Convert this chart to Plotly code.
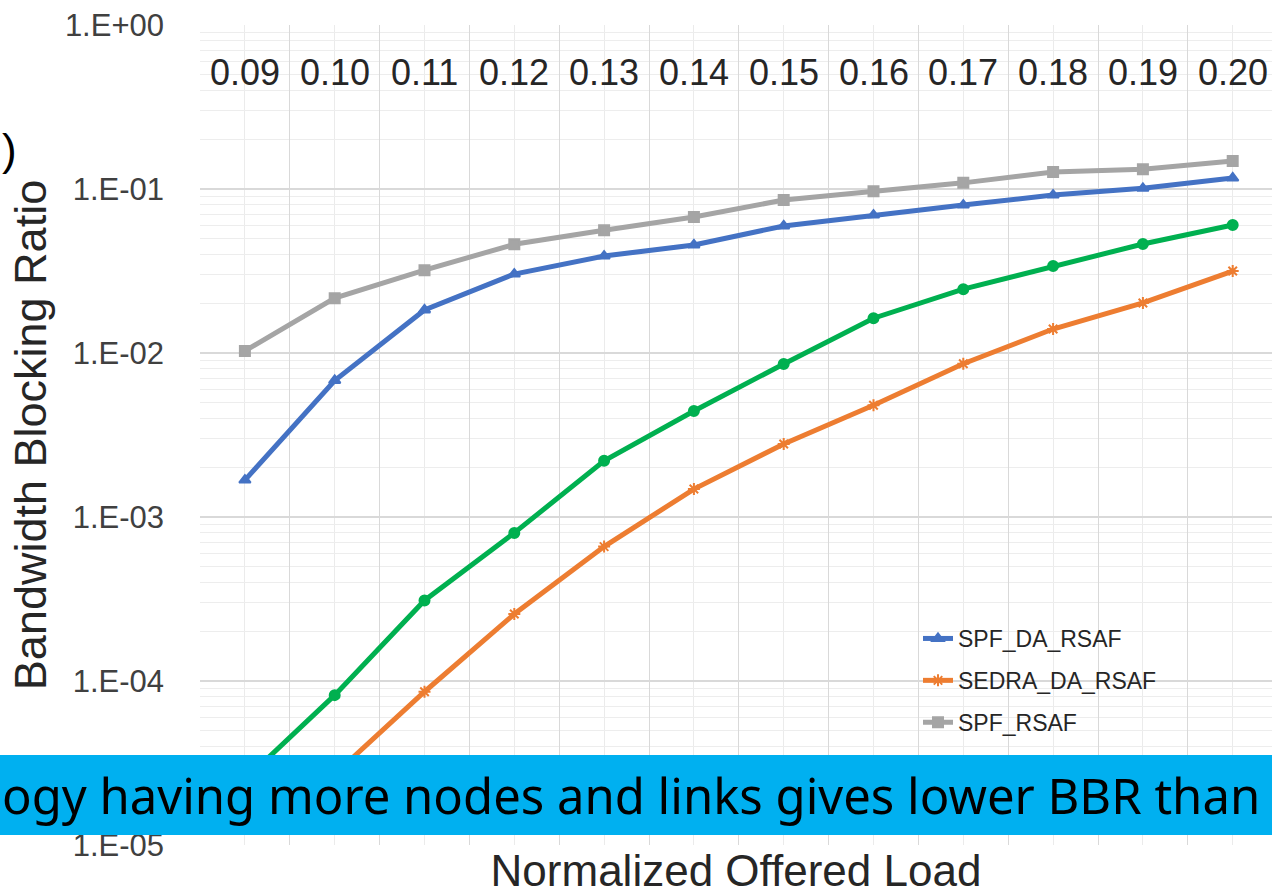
import plotly.graph_objects as go

categories = ["0.09", "0.10", "0.11", "0.12", "0.13", "0.14", "0.15", "0.16", "0.17", "0.18", "0.19", "0.20"]
spf_da_rsaf = [0.00168, 0.0068, 0.0183, 0.0303, 0.039, 0.0456, 0.0595, 0.0694, 0.0798, 0.0919, 0.101, 0.1167]
sedra_da_rsaf = [None, 2.7e-5, 8.6e-5, 2.56e-4, 6.6e-4, 1.48e-3, 2.79e-3, 4.8e-3, 8.6e-3, 0.014, 0.0202, 0.0316]
spf_rsaf = [0.0103, 0.0216, 0.032, 0.046, 0.056, 0.0675, 0.0857, 0.097, 0.109, 0.127, 0.132, 0.148]
sedra_rsaf = [2.5e-5, 8.2e-5, 3.1e-4, 8.0e-4, 2.2e-3, 4.43e-3, 8.57e-3, 0.0163, 0.0245, 0.0339, 0.0462, 0.0603]
y_tickvals = [1e-5, 1e-4, 1e-3, 1e-2, 1e-1, 1]
y_ticktext = ["1.E-05", "1.E-04", "1.E-03", "1.E-02", "1.E-01", "1.E+00"]
banner_text = "ogy having more nodes and links gives lower BBR than"

xidx = list(range(len(categories)))

W, H = 1272, 895
L, R, T, B = 200, 0, 25, 50
pw, ph = W - L - R, H - T - B

def px_x(p):
    return (p - L) / pw

def px_y(p):
    return (H - B - p) / ph

fig = go.Figure()

series = [
    ("SPF_DA_RSAF", spf_da_rsaf, "#4472C4", "triangle-up", 10, True),
    ("SEDRA_DA_RSAF", sedra_da_rsaf, "#ED7D31", "asterisk-open", 10, True),
    ("SPF_RSAF", spf_rsaf, "#A5A5A5", "square", 10, True),
    ("SEDRA_RSAF", sedra_rsaf, "#00B050", "circle", 10, False),
]
for name, vals, col, sym, sz, show in series:
    fig.add_trace(go.Scatter(
        x=xidx, y=vals, name=name, mode="lines+markers",
        line=dict(color=col, width=5),
        marker=dict(symbol=sym, size=sz, color=col, line=dict(color=col, width=2)),
        showlegend=show, legendgroup=name, connectgaps=False,
    ))

fig.update_xaxes(
    range=[-0.5, -0.5 + pw / 89.8],
    tickmode="linear", tick0=-0.5, dtick=1,
    showticklabels=False, ticks="",
    showgrid=True, gridcolor="#D9D9D9", gridwidth=1,
    minor=dict(tick0=0, dtick=1, showgrid=True, gridcolor="#EBEBEB", gridwidth=1),
    zeroline=False, showline=False,
    title=dict(text="Normalized Offered Load", standoff=14,
               font=dict(family="Liberation Sans, Arial", size=44, color="#262626")),
)
fig.update_yaxes(
    type="log", range=[-5, 0],
    tickvals=y_tickvals, ticktext=y_ticktext,
    tickfont=dict(family="Liberation Sans, Arial", size=31, color="#404040"),
    ticks="", ticklabelstandoff=35,
    showgrid=True, gridcolor="#D9D9D9", gridwidth=2,
    minor=dict(dtick="D1", showgrid=True, gridcolor="#EDEDED", gridwidth=1),
    zeroline=False, showline=False,
    title=dict(text="Bandwidth Blocking Ratio", standoff=4,
               font=dict(family="Liberation Sans, Arial", size=45, color="#262626")),
)

annotations = []
for i, c in enumerate(categories):
    annotations.append(dict(
        x=i, xref="x", y=px_y(72), yref="paper", text=c, showarrow=False,
        xanchor="center", yanchor="middle",
        font=dict(family="Liberation Sans, Arial", size=36, color="#262626"),
    ))
annotations.append(dict(
    x=px_x(0), xref="paper", y=px_y(149), yref="paper", text=")", showarrow=False,
    xanchor="left", yanchor="middle",
    font=dict(family="Liberation Sans, Arial", size=44, color="#000000"),
))
annotations.append(dict(
    x=px_x(631), xref="paper", y=px_y(795), yref="paper", text=banner_text, showarrow=False,
    xanchor="center", yanchor="middle",
    font=dict(family="Noto Sans", size=49, color="#000000"),
))

fig.update_layout(
    width=W, height=H,
    margin=dict(l=L, r=R, t=T, b=B, autoexpand=False),
    paper_bgcolor="white", plot_bgcolor="white",
    showlegend=True,
    legend=dict(
        x=px_x(918), y=px_y(617), xanchor="left", yanchor="top",
        bgcolor="rgba(0,0,0,0)", traceorder="grouped", tracegroupgap=9,
        font=dict(family="Liberation Sans, Arial", size=23, color="#262626"),
        itemwidth=30,
    ),
    shapes=[dict(
        type="rect", xref="paper", yref="paper",
        x0=px_x(0), x1=px_x(W), y0=px_y(835), y1=px_y(755),
        fillcolor="#00B0F0", line=dict(width=0), layer="above",
    )],
    annotations=annotations,
)

fig.write_html("out.html")
